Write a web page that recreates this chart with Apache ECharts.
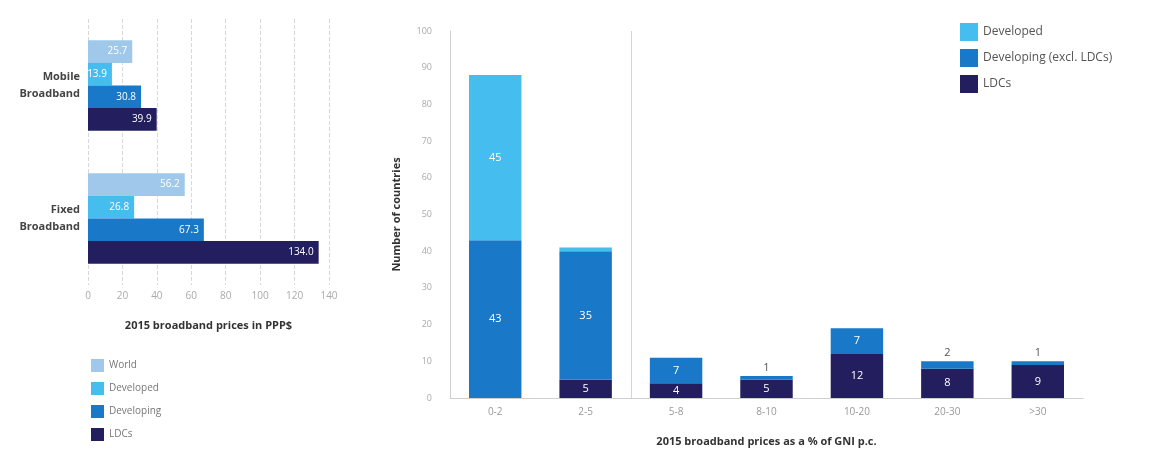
<!DOCTYPE html>
<html>
<head>
<meta charset="utf-8">
<script src="https://cdn.jsdelivr.net/npm/echarts@6/dist/echarts.min.js"></script>
<style>
html,body{margin:0;padding:0;background:#fff;}
#main{width:1150px;height:456px;}
</style>
</head>
<body>
<div id="main"></div>
<script>
// Left chart: broadband prices in PPP$
const priceCategories = ['Mobile\nBroadband', 'Fixed\nBroadband'];
const priceWorld = [25.7, 56.2];
const priceDeveloped = [13.9, 26.8];
const priceDeveloping = [30.8, 67.3];
const priceLDCs = [39.9, 134.0];

// Right chart: number of countries by price as % of GNI p.c.
const gniCategories = ['0-2', '2-5', '5-8', '8-10', '10-20', '20-30', '>30'];
const countLDCs = [0, 5, 4, 5, 12, 8, 9];
const countDeveloping = [43, 35, 7, 1, 7, 2, 1];
const countDeveloped = [45, 1, 0, 0, 0, 0, 0];

const C_WORLD = '#9fc8ea';
const C_DEVD = '#45bdee';
const C_DEVG = '#1a78c8';
const C_LDC = '#231f5e';
const FONT = '"Open Sans", "Noto Sans", sans-serif';

function leftSeries(name, data, color) {
  return {
    name: name, type: 'bar', xAxisIndex: 0, yAxisIndex: 0,
    data: data, barGap: '0%', barCategoryGap: '32%',
    itemStyle: { color: color },
    label: { show: true, position: 'insideRight', color: '#fff', fontSize: 10, fontFamily: FONT,
      formatter: p => p.value.toFixed(1) }
  };
}

function stackData(arr, smallTop, hideIdx) {
  return arr.map((v, i) => {
    const item = { value: v };
    if (v === 0 || (hideIdx && hideIdx.indexOf(i) >= 0)) {
      item.label = { show: false };
    } else if (smallTop && v <= 2) {
      item.label = { show: true, position: 'top', color: '#555', distance: 3 };
    }
    return item;
  });
}

function rightSeries(name, data, color) {
  return {
    name: name, type: 'bar', stack: 'cnt', xAxisIndex: 1, yAxisIndex: 1,
    data: data, barCategoryGap: '42%',
    itemStyle: { color: color },
    label: { show: true, position: 'inside', color: '#fff', fontSize: 11, fontFamily: FONT }
  };
}

const chart = echarts.init(document.getElementById('main'), null, { renderer: 'canvas' });
chart.setOption({
  animation: false,
  backgroundColor: '#fff',
  textStyle: { fontFamily: FONT },
  grid: [
    { left: 88, top: 19, width: 241, height: 266 },
    { left: 450, top: 31, width: 633, height: 367 }
  ],
  legend: [
    {
      orient: 'vertical', left: 86, top: 354, itemWidth: 13, itemHeight: 13, itemGap: 10,
      icon: 'rect', data: ['World', 'Developed', 'Developing', 'LDCs'],
      textStyle: { color: '#777', fontSize: 10, fontFamily: FONT }
    },
    {
      orient: 'vertical', left: 955, top: 18, itemWidth: 18, itemHeight: 18, itemGap: 8,
      icon: 'rect', data: ['Developed', 'Developing (excl. LDCs)', 'LDCs'],
      textStyle: { color: '#555', fontSize: 12, fontFamily: FONT }
    }
  ],
  xAxis: [
    {
      type: 'value', gridIndex: 0, min: 0, max: 140, interval: 20,
      axisLine: { show: false }, axisTick: { show: false },
      axisLabel: { color: '#aaa', fontSize: 10, margin: 6 },
      splitLine: { show: true, lineStyle: { color: '#d8d8d8', type: 'dashed' } },
      name: '2015 broadband prices in PPP$', nameLocation: 'middle', nameGap: 35,
      nameTextStyle: { color: '#333', fontSize: 11, fontWeight: 'bold' }
    },
    {
      type: 'category', gridIndex: 1, data: gniCategories,
      axisLine: { show: true, lineStyle: { color: '#cfcfcf' } }, axisTick: { show: false },
      axisLabel: { color: '#999', fontSize: 10, margin: 9 },
      splitLine: { show: false },
      name: '2015 broadband prices as a % of GNI p.c.', nameLocation: 'middle', nameGap: 38,
      nameTextStyle: { color: '#333', fontSize: 11, fontWeight: 'bold' }
    }
  ],
  yAxis: [
    {
      type: 'category', gridIndex: 0, data: priceCategories, inverse: true,
      axisLine: { show: false }, axisTick: { show: false },
      axisLabel: { color: '#444', fontSize: 11, fontWeight: 'bold', margin: 8, lineHeight: 17, align: 'right' }
    },
    {
      type: 'value', gridIndex: 1, min: 0, max: 100, interval: 10,
      axisLine: { show: true, lineStyle: { color: '#cfcfcf' } }, axisTick: { show: false },
      axisLabel: { color: '#aaa', fontSize: 9, margin: 18 },
      splitLine: { show: false },
      name: 'Number of countries', nameLocation: 'middle', nameGap: 48,
      nameTextStyle: { color: '#333', fontSize: 11, fontWeight: 'bold' }
    }
  ],
  series: [
    leftSeries('World', priceWorld, C_WORLD),
    leftSeries('Developed', priceDeveloped, C_DEVD),
    leftSeries('Developing', priceDeveloping, C_DEVG),
    leftSeries('LDCs', priceLDCs, C_LDC),
    rightSeries('LDCs', stackData(countLDCs, false), C_LDC),
    rightSeries('Developing (excl. LDCs)', stackData(countDeveloping, true), C_DEVG),
    rightSeries('Developed', stackData(countDeveloped, false, [1]), C_DEVD)
  ]
});

// Divider between the '2-5' and '5-8' categories, placed through the axis scale
const xa = chart.convertToPixel({ xAxisIndex: 1 }, gniCategories[1]);
const xb = chart.convertToPixel({ xAxisIndex: 1 }, gniCategories[2]);
const yTop = chart.convertToPixel({ yAxisIndex: 1 }, 100);
const yBot = chart.convertToPixel({ yAxisIndex: 1 }, 0);
const xm = Math.round((xa + xb) / 2) + 0.5;
chart.setOption({
  graphic: [{
    type: 'line', silent: true, z: 0,
    shape: { x1: xm, y1: yTop, x2: xm, y2: yBot },
    style: { stroke: '#d5d5d5', lineWidth: 1 }
  }]
});
</script>
</body>
</html>
